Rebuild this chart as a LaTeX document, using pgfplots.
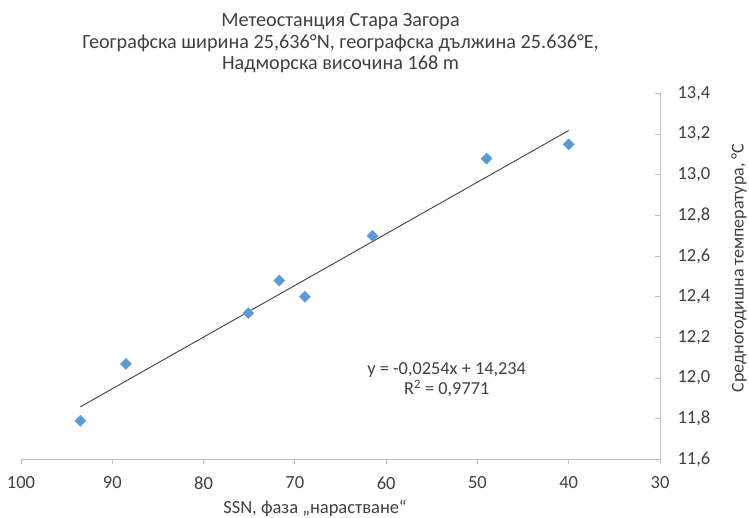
\documentclass[border=0pt]{standalone}
\usepackage{fontspec}
\setmainfont{Carlito}
\usepackage{pgfplots}
\pgfplotsset{compat=1.18}
\definecolor{ptblue}{HTML}{5B9BD5}
\definecolor{axgray}{HTML}{BFBFBF}
\definecolor{txt}{HTML}{404040}
\begin{document}
\begin{tikzpicture}[x=1pt,y=1pt]
\path[use as bounding box] (-21,-58.5) rectangle (728,459.5);
\begin{axis}[at={(0,0)}, anchor=south west, scale only axis,
  width=639pt, height=366pt,
  xmin=30, xmax=100, ymin=11.6, ymax=13.4, x dir=reverse,
  axis x line*=bottom, axis y line*=right,
  axis line style={draw=axgray, line width=0.9pt},
  xtick={30,40,50,60,70,80,90,100},
  ytick={11.6,11.8,12.0,12.2,12.4,12.6,12.8,13.0,13.2,13.4},
  major tick length=5pt,
  every tick/.style={draw=axgray, line width=0.9pt},
  xtick align=outside, ytick align=inside,
  tick label style={font=\fontsize{18.5}{22}\selectfont, text=txt},
  /pgf/number format/assume math mode=true,
  yticklabel style={anchor=west, xshift=14pt, /pgf/number format/.cd, fixed, fixed zerofill, precision=1, use comma},
  xticklabel style={anchor=north, yshift=-8.5pt, /pgf/number format/.cd, fixed, precision=0},
  clip=false,
]
\addplot[only marks, mark=square*, mark size=3.9pt, mark options={rotate=45, fill=ptblue, draw=ptblue}]
coordinates {
(93.5,11.79)
(88.5,12.07)
(75.1,12.32)
(71.7,12.48)
(68.9,12.40)
(61.5,12.70)
(49.0,13.08)
(40.0,13.15)
};
\addplot[draw=txt, line width=0.9pt] coordinates {(93.5,11.859) (40.0,13.218)};
\end{axis}
\node[align=center, font=\fontsize{20.2}{21.7}\selectfont, text=txt] at (319.5,416.2)
 {Метеостанция Стара Загора\\Географска ширина 25,636°N, географска дължина 25.636°E,\\Надморска височина 168 m};
\node[font=\fontsize{18.5}{22}\selectfont, text=txt] at (294,-48.5) {SSN, фаза „нарастване“};
\node[font=\fontsize{18}{22}\selectfont, text=txt, rotate=90] at (718,191.5) {Средногодишна температура, °С};
\node[align=center, font=\fontsize{18.3}{20}\selectfont, text=txt] at (425.7,79.5)
 {y = -0,0254x + 14,234\\R\textsuperscript{2} = 0,9771};
\end{tikzpicture}
\end{document}
